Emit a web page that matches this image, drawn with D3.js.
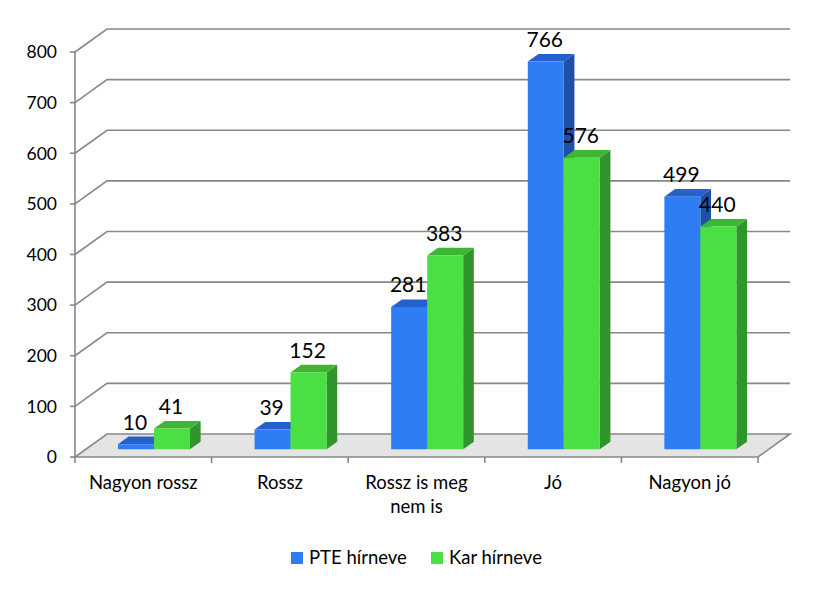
<!DOCTYPE html>
<html>
<head>
<meta charset="utf-8">
<script src="https://cdn.jsdelivr.net/npm/d3@7/dist/d3.min.js"></script>
<style>
  html, body { margin: 0; padding: 0; background: #fff; }
  svg { display: block; font-family: Lato, "Open Sans", sans-serif; }
</style>
</head>
<body>
<svg id="chart" width="827" height="589"></svg>
<script>
// ---- data ----
const categories = ["Nagyon rossz", "Rossz", "Rossz is meg nem is", "Jó", "Nagyon jó"];
const seriesNames = ["PTE hírneve", "Kar hírneve"];
const pteValues = [10, 39, 281, 766, 499];
const karValues = [41, 152, 383, 576, 440];
const yTicks = [0, 100, 200, 300, 400, 500, 600, 700, 800];

// ---- style ----
const palette = {
  "PTE hírneve": { front: "#2E7DF4", top: "#2461CC", side: "#1F4FA6" },
  "Kar hírneve": { front: "#4ADF42", top: "#3BB733", side: "#30952B" }
};
const gridColor = "#888888";

const svg = d3.select("#chart");

const plotLeft = 75, plotRight = 758, plotBottom = 457, plotTop = 52;
const depthX = 32, depthY = -23;      // oblique depth of the plot box
const barF0 = 1 / 3, barF1 = 2 / 3;   // bar position within depth

const x = d3.scaleBand().domain(categories).range([plotLeft, plotRight]);
const y = d3.scaleLinear().domain([0, 800]).range([plotBottom, plotTop]);
const groupW = 72;
const x1 = d3.scaleBand().domain(seriesNames)
  .range([x.bandwidth() / 2 - groupW / 2, x.bandwidth() / 2 + groupW / 2]);

const P = (px, py, f) => [px + f * depthX, py + f * depthY];
const poly = pts => pts.map(p => p.join(",")).join(" ");

// ---- back wall gridlines + left wall diagonals ----
const grid = svg.append("g");
yTicks.forEach(v => {
  if (v === 0) return;
  const a = P(plotLeft, y(v), 0), b = P(plotLeft, y(v), 1), c = P(plotRight, y(v), 1);
  grid.append("polyline")
    .attr("points", poly([a, b, c]))
    .attr("fill", "none").attr("stroke", gridColor).attr("stroke-width", 1.6);
});

// ---- floor ----
const f0a = P(plotLeft, y(0), 0), f0b = P(plotRight, y(0), 0), f1b = P(plotRight, y(0), 1), f1a = P(plotLeft, y(0), 1);
svg.append("polygon")
  .attr("points", poly([f0a, f0b, f1b, f1a]))
  .attr("fill", "#E4E4E4").attr("stroke", gridColor).attr("stroke-width", 1.6);

// ---- value axis (front) ----
svg.append("line").attr("x1", plotLeft).attr("x2", plotLeft).attr("y1", y(800)).attr("y2", y(0))
  .attr("stroke", gridColor).attr("stroke-width", 1.6);
const yAxisG = svg.append("g");
yTicks.forEach(v => {
  yAxisG.append("line").attr("x1", plotLeft - 5).attr("x2", plotLeft).attr("y1", y(v)).attr("y2", y(v))
    .attr("stroke", gridColor).attr("stroke-width", 1.6);
  yAxisG.append("text").attr("x", 57).attr("y", y(v)).attr("dy", "0.36em")
    .attr("text-anchor", "end").attr("font-size", 17.5).attr("fill", "#000").text(v);
});

// ---- category ticks ----
const catTicks = categories.map(c => x(c)).concat([plotRight]);
catTicks.forEach(t => {
  svg.append("line").attr("x1", t).attr("x2", t).attr("y1", y(0)).attr("y2", y(0) + 6)
    .attr("stroke", gridColor).attr("stroke-width", 1.6);
});

// ---- bars ----
const rows = categories.map((c, i) => ({ cat: c, vals: [pteValues[i], karValues[i]] }));
const barsG = svg.append("g");
rows.forEach(r => {
  seriesNames.forEach((s, si) => {
    const v = r.vals[si];
    const x0 = x(r.cat) + x1(s), xw = x1.bandwidth();
    const col = palette[s];
    const fl = P(x0, y(0), barF0), fr = P(x0 + xw, y(0), barF0);
    const tl = P(x0, y(v), barF0), tr = P(x0 + xw, y(v), barF0);
    const btl = P(x0, y(v), barF1), btr = P(x0 + xw, y(v), barF1), bbr = P(x0 + xw, y(0), barF1);
    barsG.append("polygon").attr("points", poly([fr, tr, btr, bbr])).attr("fill", col.side);
    barsG.append("polygon").attr("points", poly([tl, tr, btr, btl])).attr("fill", col.top);
    barsG.append("polygon").attr("points", poly([fl, fr, tr, tl])).attr("fill", col.front);
  });
});

// ---- value labels ----
const labelsG = svg.append("g");
rows.forEach(r => {
  seriesNames.forEach((s, si) => {
    const v = r.vals[si];
    const cx = x(r.cat) + x1(s) + x1.bandwidth() / 2 + barF0 * depthX;
    const ty = P(0, y(v), barF1)[1] - 7;
    labelsG.append("text").attr("x", cx - 1).attr("y", ty)
      .attr("text-anchor", "middle").attr("font-size", 21).attr("fill", "#000").text(v);
  });
});

// ---- category labels (wrapped) ----
const catG = svg.append("g");
categories.forEach(c => {
  const cx = x(c) + x.bandwidth() / 2;
  const t = catG.append("text").attr("x", cx).attr("y", 489)
    .attr("text-anchor", "middle").attr("font-size", 18.5).attr("fill", "#000");
  const words = c.split(" ");
  let line = [];
  let tspan = t.append("tspan").attr("x", cx).attr("dy", 0);
  words.forEach(w => {
    line.push(w);
    tspan.text(line.join(" "));
    if (tspan.node().getComputedTextLength() > 122 && line.length > 1) {
      line.pop();
      tspan.text(line.join(" "));
      line = [w];
      tspan = t.append("tspan").attr("x", cx).attr("dy", 24).text(w);
    }
  });
});

// ---- legend ----
const legendPos = [291, 431];
const legendG = svg.append("g");
seriesNames.forEach((s, i) => {
  legendG.append("rect").attr("x", legendPos[i]).attr("y", 552).attr("width", 12).attr("height", 12)
    .attr("fill", palette[s].front);
  legendG.append("text").attr("x", legendPos[i] + 18).attr("y", 564)
    .attr("font-size", 18.5).attr("fill", "#000").text(s);
});
</script>
</body>
</html>
